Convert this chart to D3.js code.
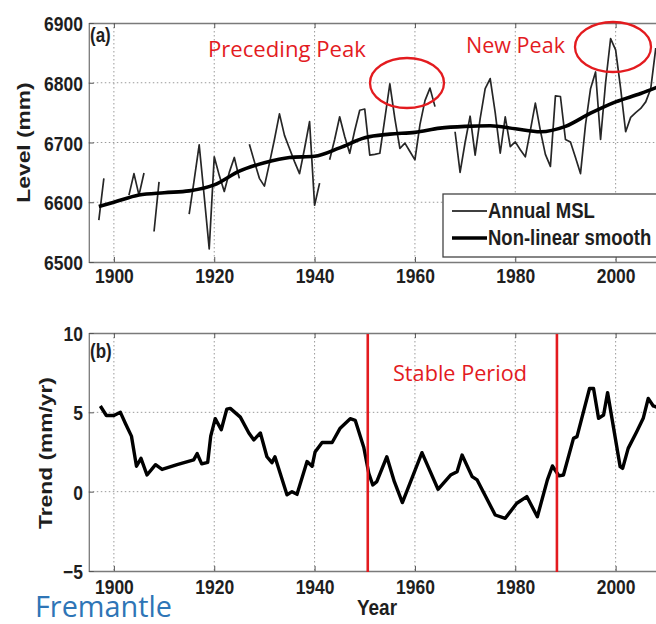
<!DOCTYPE html>
<html><head><meta charset="utf-8">
<script src="https://cdn.jsdelivr.net/npm/d3@7"></script>
<style>body{margin:0;background:#fff}svg{display:block}</style>
</head><body><svg id="c" width="656" height="624"></svg>
<script>
// ---------- data ----------
const annualYears = d3.range(1897, 2009);
const annualMSL = [
  6570, 6640, null, null, null, null, 6612, 6648, 6612, 6649, // 1897-1906
  null, 6551, 6634, null, null, null, null, null, 6580, 6637, // 1907-1916
  6696, 6610, 6522, 6676, 6645, 6618, 6650, 6675, 6640, null, // 1917-1926
  6697, 6668, 6640, 6627, 6665, 6705, 6748, 6712, 6690, 6668, // 1927-1936
  6648, 6690, 6735, 6595, 6632, null, 6671, 6705, 6743, 6710, // 1937-1946
  6682, 6720, 6754, 6756, 6679, 6680, 6682, 6740, 6798, 6740, // 1947-1956
  6690, 6699, 6685, 6671, 6730, 6770, 6791, 6760, null, null, // 1957-1966
  null, 6718, 6650, 6700, 6744, 6679, 6740, 6790, 6807, 6750, // 1967-1976
  6682, 6743, 6693, 6701, 6688, 6676, 6720, 6766, 6720, 6680, // 1977-1986
  6660, 6778, 6777, 6705, 6701, 6675, 6648, 6730, 6790, 6818, // 1987-1996
  6705, 6800, 6874, 6855, 6790, 6718, 6742, 6750, 6757, 6768, // 1997-2006
  6790, 6858                                                  // 2007-2008
];
const smoothYears = [1897, 1900, 1905, 1910, 1915, 1920, 1925, 1930, 1935, 1940, 1945, 1950, 1955, 1960, 1965, 1970, 1975, 1980, 1985, 1990, 1995, 2000, 2005, 2009];
const smoothMSL   = [6593, 6600, 6612, 6616, 6619, 6629, 6652, 6666, 6675, 6677, 6691, 6708, 6714, 6717, 6724, 6727, 6728, 6723, 6718, 6727, 6749, 6768, 6782, 6795];

const trendYears = [1897.3,1898.5,1900,1901.3,1902.3,1903.5,1904.5,1905.4,1906.6,1908.3,1909.6,1912.6,1915.9,1916.6,1917.5,1918.7,1919.3,1920.2,1921.4,1922.5,1923.2,1925.2,1926.9,1927.9,1929.2,1930.5,1931.5,1932.1,1934.5,1935.5,1936.5,1938.5,1939.5,1940.1,1941.5,1943.5,1945.1,1947.1,1948.1,1949.8,1950.8,1951.6,1952.4,1954.4,1955.9,1957.5,1961.4,1964.6,1967.1,1968.4,1969.4,1971.4,1972.4,1976,1978,1980.3,1982.3,1984.4,1986.4,1987.4,1988.7,1989.6,1991.6,1992.3,1994.8,1995.6,1996.6,1997.6,1998.4,2000.9,2001.4,2002.5,2004.2,2005.5,2006.5,2007.5,2008.5];
const trendValues = [5.4,4.8,4.8,5.0,4.3,3.5,1.6,2.1,1.05,1.7,1.4,1.7,2.0,2.4,1.75,1.85,3.5,4.6,3.9,5.2,5.25,4.7,3.7,3.26,3.7,2.2,1.83,2.2,-0.2,0.0,-0.17,1.9,1.6,2.5,3.1,3.1,4.0,4.6,4.5,2.8,1.16,0.42,0.63,2.2,0.63,-0.69,2.46,0.15,1.05,1.26,2.31,0.95,0.74,-1.47,-1.68,-0.73,-0.31,-1.58,0.74,1.62,1.0,1.05,3.36,3.47,6.5,6.5,4.62,4.83,6.24,1.58,1.47,2.73,3.78,4.62,5.88,5.4,5.3];

const xTicks = [1900, 1920, 1940, 1960, 1980, 2000];
const levelTicks = [6500, 6600, 6700, 6800, 6900];
const trendTicks = [-5, 0, 5, 10];
const stableBounds = [1950.6, 1988.3];
const legendLabels = ["Annual MSL", "Non-linear smooth"];

// ---------- layout ----------
const svg = d3.select("#c");
const L = 88.8, R = 665.8;
const x = d3.scaleLinear().domain([1895, 2010]).range([L, R]);
const yTop = d3.scaleLinear().domain([6500, 6900]).range([262, 23]);
const yBot = d3.scaleLinear().domain([-5, 10]).range([571, 333]);
const SY = 1.2;           // vertical stretch of the original figure's text
const FONT = "'Liberation Sans', Arial, Helvetica, sans-serif";
const ink = "#1e1e1e";
const frame = "#7a7a7a";
const red = "#e31b1f";
const TICK = 17.5;

function mText(g, tx, ty, str, opt = {}) {
  return g.append("text").text(str)
    .attr("font-family", FONT).attr("font-weight", "bold")
    .attr("font-size", opt.size || TICK).attr("fill", opt.fill || ink)
    .attr("text-anchor", opt.anchor || "start")
    .attr("transform", `translate(${tx},${ty}) scale(1,${SY})` + (opt.rotate ? " rotate(-90)" : ""));
}
function fitText(tx, ty, str, width, color) {
  const t = svg.append("text").text(str)
    .attr("x", tx).attr("y", ty)
    .attr("font-family", "'Open Sans', 'Noto Sans', sans-serif")
    .attr("font-size", 22).attr("fill", color);
  const w = t.node().getComputedTextLength();
  t.attr("font-size", 22 * width / w);
  return t;
}

function panel(y, yTicks, top, bottom, id, labelBase) {
  const g = svg.append("g");
  g.append("defs").append("clipPath").attr("id", id)
    .append("rect").attr("x", L).attr("y", top).attr("width", R - L).attr("height", bottom - top);
  // grid
  const grid = g.append("g").attr("stroke", "#9a9a9a").attr("stroke-width", 1).attr("stroke-dasharray", "1.5,2.5");
  grid.selectAll("line.v").data(xTicks).join("line")
    .attr("x1", d => x(d)).attr("x2", d => x(d)).attr("y1", top).attr("y2", bottom);
  grid.selectAll("line.h").data(yTicks.slice(1, -1)).join("line")
    .attr("y1", d => y(d)).attr("y2", d => y(d)).attr("x1", L).attr("x2", R);
  // axes
  const ax = g.append("g").attr("transform", `translate(0,${bottom})`)
    .call(d3.axisBottom(x).tickValues(xTicks).tickSize(-5).tickSizeOuter(0).tickFormat(d3.format("d")));
  const axT = g.append("g").attr("transform", `translate(0,${top})`)
    .call(d3.axisTop(x).tickValues(xTicks).tickSize(-5).tickSizeOuter(0).tickFormat(""));
  const ay = g.append("g").attr("transform", `translate(${L},0)`)
    .call(d3.axisLeft(y).tickValues(yTicks).tickSize(-5).tickSizeOuter(0).tickFormat(d3.format("d")));
  [ax, axT, ay].forEach(a => {
    a.select(".domain").attr("stroke", frame).attr("stroke-width", 1.3);
    a.selectAll(".tick line").attr("stroke", "#555");
  });
  ax.selectAll(".tick text").attr("y", null).attr("dy", null)
    .attr("font-family", FONT).attr("font-weight", "bold").attr("font-size", TICK).attr("fill", ink)
    .attr("transform", `translate(0,${labelBase - bottom}) scale(1,${SY})`);
  ay.selectAll(".tick text").attr("x", null).attr("dy", null)
    .attr("font-family", FONT).attr("font-weight", "bold").attr("font-size", TICK).attr("fill", ink)
    .attr("text-anchor", "end")
    .attr("transform", `translate(${83 - L},7.5) scale(1,${SY})`);
  return g;
}

// ---------- panel (a) ----------
const gA = panel(yTop, levelTicks, 23, 262, "clipA", 283);
const annual = annualYears.map((yr, i) => [yr, annualMSL[i]]);
gA.append("path").datum(annual)
  .attr("clip-path", "url(#clipA)")
  .attr("fill", "none").attr("stroke", "#262626").attr("stroke-width", 1.7).attr("stroke-linejoin", "round")
  .attr("d", d3.line().defined(d => d[1] != null).x(d => x(d[0])).y(d => yTop(d[1])));
gA.append("path").datum(smoothYears.map((yr, i) => [yr, smoothMSL[i]]))
  .attr("clip-path", "url(#clipA)")
  .attr("fill", "none").attr("stroke", "#000").attr("stroke-width", 3.6)
  .attr("d", d3.line().curve(d3.curveMonotoneX).x(d => x(d[0])).y(d => yTop(d[1])));
mText(gA, 90, 42, "(a)", { size: 17 });
mText(gA, 30, yTop(6700), "Level (mm)", { size: 19, anchor: "middle", rotate: true });

// legend
const leg = gA.append("g");
leg.append("rect").attr("x", 443).attr("y", 194).attr("width", 240).attr("height", 63)
  .attr("fill", "#fff").attr("stroke", "#444").attr("stroke-width", 1.3);
[1.7, 3.6].forEach((w, i) => {
  const ly = 211 + i * 27;
  leg.append("line").attr("x1", 452).attr("x2", 487).attr("y1", ly).attr("y2", ly)
    .attr("stroke", "#000").attr("stroke-width", w);
  mText(leg, 488, ly + 7, legendLabels[i], { size: 18.5 });
});

// annotations (a)
fitText(208, 57, "Preceding Peak", 158, red);
fitText(466, 53, "New Peak", 99, red);
svg.append("ellipse").attr("cx", 407).attr("cy", 83).attr("rx", 37).attr("ry", 25)
  .attr("fill", "none").attr("stroke", red).attr("stroke-width", 2.3);
svg.append("ellipse").attr("cx", 613).attr("cy", 47).attr("rx", 38).attr("ry", 25)
  .attr("fill", "none").attr("stroke", red).attr("stroke-width", 2.3);

// ---------- panel (b) ----------
const gB = panel(yBot, trendTicks, 333, 571, "clipB", 594);
gB.append("path").datum(trendYears.map((yr, i) => [yr, trendValues[i]]))
  .attr("clip-path", "url(#clipB)")
  .attr("fill", "none").attr("stroke", "#000").attr("stroke-width", 3.4).attr("stroke-linejoin", "round")
  .attr("d", d3.line().x(d => x(d[0])).y(d => yBot(d[1])));
mText(gB, 90, 358, "(b)", { size: 17 });
mText(gB, 52, yBot(2.5) + 1, "Trend (mm/yr)", { size: 19, anchor: "middle", rotate: true });
mText(gB, 377, 615, "Year", { size: 19, anchor: "middle" });

gB.selectAll("line.stable").data(stableBounds).join("line")
  .attr("x1", d => x(d)).attr("x2", d => x(d)).attr("y1", 334).attr("y2", 572)
  .attr("stroke", red).attr("stroke-width", 2.6);
fitText(393, 381, "Stable Period", 134, red);
fitText(35, 617, "Fremantle", 137, "#2e75b6");
</script></body></html>
